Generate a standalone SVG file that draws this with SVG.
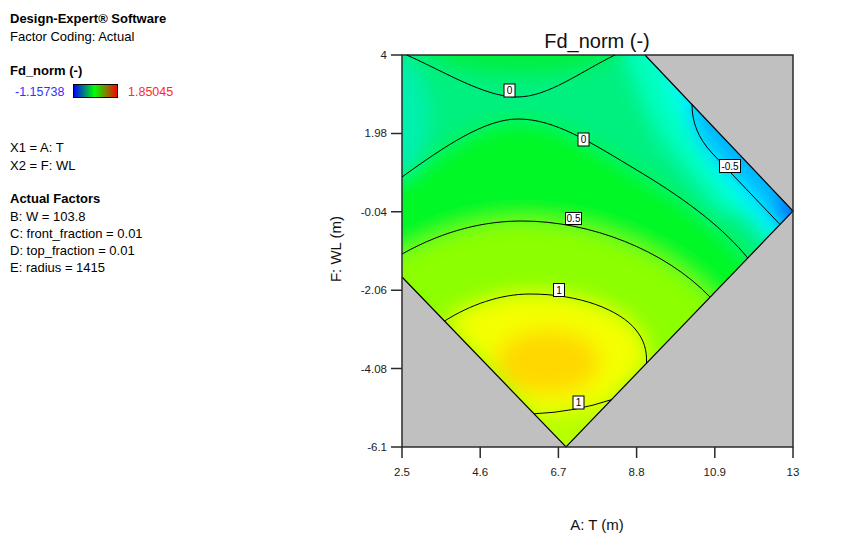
<svg xmlns="http://www.w3.org/2000/svg" width="847" height="556" viewBox="0 0 847 556">
<style>
.t{font-family:"Liberation Sans",Arial,sans-serif;font-size:13px;fill:#000}
.b{font-weight:bold}
.n{font-size:12.5px}
.tick{font-family:"Liberation Sans",Arial,sans-serif;font-size:11.5px;fill:#222}
.ax{font-family:"Liberation Sans",Arial,sans-serif;font-size:15px;fill:#111}
.ttl{font-family:"Liberation Sans",Arial,sans-serif;font-size:20px;fill:#111}
.cl{fill:none;stroke:#000;stroke-width:1}
.lb rect{fill:#fff;stroke:#000;stroke-width:1}
.lb text{font-family:"Liberation Sans",Arial,sans-serif;font-size:10px;fill:#000;text-anchor:middle}
.tk{stroke:#2b2b2b;stroke-width:1.5}
</style>
<defs>
<linearGradient id="bar" x1="0" y1="0" x2="1" y2="0">
<stop offset="0" stop-color="#0000ff"/>
<stop offset="0.48" stop-color="#00ff00"/>
<stop offset="1" stop-color="#ff0000"/>
</linearGradient>
<clipPath id="feas"><path d="M402,55 L645,55 L793,211 L566,447 L402,277 Z"/></clipPath>
<filter id="soft" x="-20%" y="-20%" width="140%" height="140%"><feGaussianBlur stdDeviation="10"/></filter>
</defs>
<rect width="847" height="556" fill="#fff"/>

<g id="info-panel">
<text class="t b" x="10" y="23">Design-Expert® Software</text>
<text class="t" x="10" y="41">Factor Coding: Actual</text>
<text class="t b" x="10" y="75">Fd_norm (-)</text>
<text class="t n" x="15" y="96" style="fill:#3232ff">-1.15738</text>
<rect x="73.5" y="84.5" width="44" height="13" fill="url(#bar)" stroke="#000" stroke-width="1"/>
<text class="t n" x="128" y="96" style="fill:#ff2a2a">1.85045</text>
<text class="t" x="10" y="152">X1 = A: T</text>
<text class="t" x="10" y="170">X2 = F: WL</text>
<text class="t b" x="10" y="203">Actual Factors</text>
<text class="t" x="10" y="221">B: W = 103.8</text>
<text class="t" x="10" y="238">C: front_fraction = 0.01</text>
<text class="t" x="10" y="255">D: top_fraction = 0.01</text>
<text class="t" x="10" y="272">E: radius = 1415</text>
</g>

<g id="plot">
<text class="ttl" x="597" y="48" text-anchor="middle">Fd_norm (-)</text>
<rect x="402" y="55" width="391" height="392" fill="#c0c0c0"/>
<g id="field" clip-path="url(#feas)">
<g filter="url(#soft)">
<rect x="370" y="20" width="470" height="460" fill="#00f080"/>
<ellipse cx="392" cy="118" rx="36" ry="60" fill="#00f0b0"/>
<ellipse cx="522" cy="42" rx="100" ry="34" fill="#00f040"/>
<path d="M370,177 L402,177 C445,146 485,119 518,119 C555,119 590,142 640,172 C690,202 725,230 748,257 L840,340 L840,480 L370,480 Z" fill="#00f828"/>
<path d="M370,258 L402,254 C445,230 485,221 522,221 C590,221 665,250 710,296 L840,420 L840,480 L370,480 Z" fill="#8cff00"/>
<path d="M444.5,321 C470,305 500,294 530,294 C580,294 620,310 636,330 C644,340 647,350 646.5,363 L611.7,400 Q575,412 534,413.8 Z" fill="#f4ff00"/>
<ellipse cx="548" cy="362" rx="52" ry="32" fill="#ffd800"/>
<path d="M534,413.8 Q575,412 611.7,400 L640,420 L566,480 L500,420 Z" fill="#b8ff00"/>
<path d="M618,20 C630,70 645,112 664,142 L722,212 L840,212 L840,20 Z" fill="#00ffc0"/>
<path d="M656,20 C664,80 688,130 707,160 L770,240 L840,240 L840,20 Z" fill="#00ffff"/>
<path d="M686,20 L692,104 C692,122 698,138 712,153 L780,224 L840,224 L840,20 Z" fill="#00b4ff"/>
<circle cx="797" cy="211" r="22" fill="#0070ff"/>
</g>
</g>
<path d="M645,55 L793,211 L566,447 L402,277" fill="none" stroke="#000" stroke-width="1.2"/>
<rect x="402" y="55" width="391" height="392" fill="none" stroke="#2b2b2b" stroke-width="1.5"/>
</g>

<g id="contours">
<path class="cl" d="M406.7,55 C445,72 485,97 517,97 C548,97 580,72 615,55"/>
<path class="cl" d="M402,177 C445,146 485,119 518,119 C555,119 590,142 640,172 C690,202 725,230 747.7,258"/>
<path class="cl" d="M692,104.5 C692,122 698,138 712,153 L780,224.5"/>
<path class="cl" d="M402,254 C445,230 485,221 522,221 C590,221 665,250 710,297"/>
<path class="cl" d="M444.5,321 C470,305 500,294 530,294 C580,294 620,310 636,330 C644,340 647,350 646.5,363"/>
<path class="cl" d="M534,413.8 Q575,412 611.7,399.6"/>
</g>

<g id="contour-labels" class="lb">
<rect x="504" y="84" width="11" height="13"/><text x="509.5" y="94.3">0</text>
<rect x="578" y="133" width="11" height="13"/><text x="583.5" y="143.3">0</text>
<rect x="719.5" y="159.5" width="21" height="13"/><text x="730" y="169.8">-0.5</text>
<rect x="565.5" y="212.5" width="16" height="12"/><text x="573.5" y="222.3">0.5</text>
<rect x="553.5" y="283.5" width="11" height="13"/><text x="559" y="293.8">1</text>
<rect x="573" y="396" width="11" height="13"/><text x="578.5" y="406.3">1</text>
</g>

<g id="axes">
<path class="tk" d="M391,55 H402 M391,133.4 H402 M391,211.8 H402 M391,290.2 H402 M391,368.6 H402 M391,447 H402"/>
<path class="tk" d="M402,447 V458 M480.2,447 V458 M558.4,447 V458 M636.6,447 V458 M714.8,447 V458 M793,447 V458"/>
<g text-anchor="end">
<text class="tick" x="387" y="59">4</text>
<text class="tick" x="387" y="137.4">1.98</text>
<text class="tick" x="387" y="215.8">-0.04</text>
<text class="tick" x="387" y="294.2">-2.06</text>
<text class="tick" x="387" y="372.6">-4.08</text>
<text class="tick" x="387" y="451">-6.1</text>
</g>
<g text-anchor="middle">
<text class="tick" x="402" y="476">2.5</text>
<text class="tick" x="480.2" y="476">4.6</text>
<text class="tick" x="558.4" y="476">6.7</text>
<text class="tick" x="636.6" y="476">8.8</text>
<text class="tick" x="714.8" y="476">10.9</text>
<text class="tick" x="793" y="476">13</text>
</g>
<text class="ax" x="597" y="530" text-anchor="middle">A: T (m)</text>
<text class="ax" transform="translate(341,249) rotate(-90)" text-anchor="middle">F: WL (m)</text>
</g>
</svg>
